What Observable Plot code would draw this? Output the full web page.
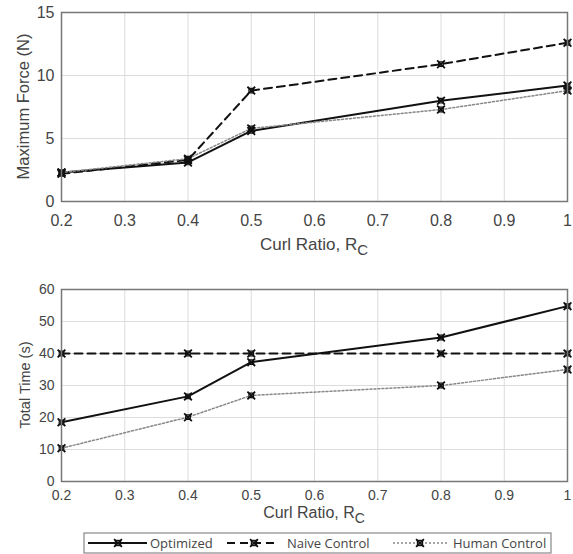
<!DOCTYPE html>
<html>
<head>
<meta charset="utf-8">
<script src="https://cdn.jsdelivr.net/npm/d3@7"></script>
<script src="https://cdn.jsdelivr.net/npm/@observablehq/plot@0.6"></script>
<style>
  html, body { margin: 0; padding: 0; background: #fff; }
  #chart { width: 573px; height: 554px; overflow: hidden; }
  #chart svg { display: block; }
</style>
</head>
<body>
<div id="chart"></div>
<script>
// ---- data ----
const curlRatio = [0.2, 0.4, 0.5, 0.8, 1];
const seriesNames = ["Optimized", "Naive Control", "Human Control"];
const forceOptimized = [2.3, 3.1, 5.6, 8.0, 9.2];
const forceNaive = [2.2, 3.3, 8.8, 10.9, 12.6];
const forceHuman = [2.3, 3.4, 5.8, 7.3, 8.8];
const timeOptimized = [18.5, 26.6, 37.3, 45.0, 54.8];
const timeNaive = [40, 40, 40, 40, 40];
const timeHuman = [10.4, 20.1, 26.9, 30.0, 35.0];
const xTicks = [0.2, 0.3, 0.4, 0.5, 0.6, 0.7, 0.8, 0.9, 1];
const forceTicks = [0, 5, 10, 15];
const timeTicks = [0, 10, 20, 30, 40, 50, 60];

const styles = {
  "Optimized": {stroke: "#111", strokeWidth: 2, dash: null},
  "Naive Control": {stroke: "#111", strokeWidth: 2, dash: "8,5"},
  "Human Control": {stroke: "#888", strokeWidth: 1.5, dash: "2,2"}
};

const W = 573;
const font = "'Liberation Sans', Arial, sans-serif";

function rowsFor(arrays) {
  const rows = [];
  seriesNames.forEach((s, i) => {
    curlRatio.forEach((x, j) => rows.push({series: s, x, y: arrays[i][j]}));
  });
  return rows;
}

function panel({arrays, yDomain, yTicks, yLabel, height, marginTop, marginBottom, xLabelY,
                tickFont, tickPadX, yLabelFont, yLabelOffset, xLabelFont}) {
  const rows = rowsFor(arrays);
  const marks = [
    Plot.gridX(xTicks, {stroke: "#dcdcdc", strokeOpacity: 1}),
    Plot.gridY(yTicks, {stroke: "#dcdcdc", strokeOpacity: 1}),
  ];
  seriesNames.forEach(s => {
    const st = styles[s];
    marks.push(Plot.line(rows.filter(d => d.series === s), {
      x: "x", y: "y", stroke: st.stroke, strokeWidth: st.strokeWidth,
      strokeDasharray: st.dash
    }));
  });
  marks.push(Plot.dot(rows, {x: "x", y: "y", symbol: "square", r: 2.6, stroke: "#111", strokeWidth: 1.2, fill: "none"}));
  marks.push(Plot.dot(rows, {x: "x", y: "y", symbol: "times", r: 3.6, stroke: "#111", strokeWidth: 1.8}));
  marks.push(Plot.frame({stroke: "#777", strokeWidth: 1.5}));
  const svg = Plot.plot({
    width: W, height,
    marginLeft: 61, marginRight: 6, marginTop, marginBottom,
    style: {fontFamily: font, fontSize: tickFont + "px", color: "#444", background: "#fff"},
    x: {domain: [0.2, 1], ticks: xTicks, tickFormat: d => String(+d.toFixed(1)), tickSize: 0, tickPadding: tickPadX, label: null},
    y: {domain: yDomain, ticks: yTicks, tickSize: 0, tickPadding: 7, label: null},
    marks
  });
  // y-axis label
  const cy = (marginTop + height - marginBottom) / 2;
  d3.select(svg).append("text")
    .attr("transform", `translate(${yLabelOffset},${cy}) rotate(-90)`)
    .attr("text-anchor", "middle")
    .attr("fill", "#444")
    .style("font-family", font).style("font-size", yLabelFont + "px")
    .text(yLabel);
  // x-axis label with subscript
  const cx = (61 + (W - 6)) / 2;
  const t = d3.select(svg).append("text")
    .attr("x", cx).attr("y", xLabelY)
    .attr("text-anchor", "middle")
    .attr("fill", "#444")
    .style("font-family", font).style("font-size", xLabelFont + "px");
  t.append("tspan").text("Curl Ratio, R");
  t.append("tspan").attr("dy", 5).style("font-size", (xLabelFont - 2) + "px").text("C");
  return svg;
}

const chart = document.getElementById("chart");
chart.appendChild(panel({
  arrays: [forceOptimized, forceNaive, forceHuman],
  yDomain: [0, 15], yTicks: forceTicks, yLabel: "Maximum Force (N)",
  height: 270, marginTop: 12, marginBottom: 69, xLabelY: 250,
  tickFont: 16, tickPadX: 13, yLabelFont: 16.5, yLabelOffset: 29, xLabelFont: 17
}));
chart.appendChild(panel({
  arrays: [timeOptimized, timeNaive, timeHuman],
  yDomain: [0, 60], yTicks: timeTicks, yLabel: "Total Time (s)",
  height: 258, marginTop: 19, marginBottom: 47, xLabelY: 248,
  tickFont: 14, tickPadX: 9, yLabelFont: 14.5, yLabelOffset: 30, xLabelFont: 16
}));

// ---- legend ----
const legendLayout = [
  {x0: 88, x1: 147, m: 118, tx: 150},
  {x0: 227, x1: 277, m: 254, tx: 287},
  {x0: 393, x1: 448, m: 420, tx: 453}
];
const lg = d3.select(chart).append("svg").attr("width", W).attr("height", 26);
lg.append("rect").attr("x", 84).attr("y", 5).attr("width", 467).attr("height", 20)
  .attr("fill", "#fff").attr("stroke", "#888").attr("stroke-width", 1.2);
seriesNames.forEach((s, i) => {
  const st = styles[s], L = legendLayout[i], y = 15;
  lg.append("line").attr("x1", L.x0).attr("x2", L.x1).attr("y1", y).attr("y2", y)
    .attr("stroke", st.stroke).attr("stroke-width", st.strokeWidth)
    .attr("stroke-dasharray", st.dash);
  lg.append("rect").attr("x", L.m - 2.6).attr("y", y - 2.6).attr("width", 5.2).attr("height", 5.2)
    .attr("fill", "none").attr("stroke", "#111").attr("stroke-width", 1.2);
  lg.append("path").attr("d", d3.symbol(d3.symbolTimes, 42)())
    .attr("transform", `translate(${L.m},${y})`).attr("stroke", "#111").attr("stroke-width", 1.8).attr("fill", "none");
  lg.append("text").attr("x", L.tx).attr("y", y + 5).attr("fill", "#444")
    .style("font-family", "'Open Sans', sans-serif").style("font-size", "13px").text(s);
});
</script>
</body>
</html>
